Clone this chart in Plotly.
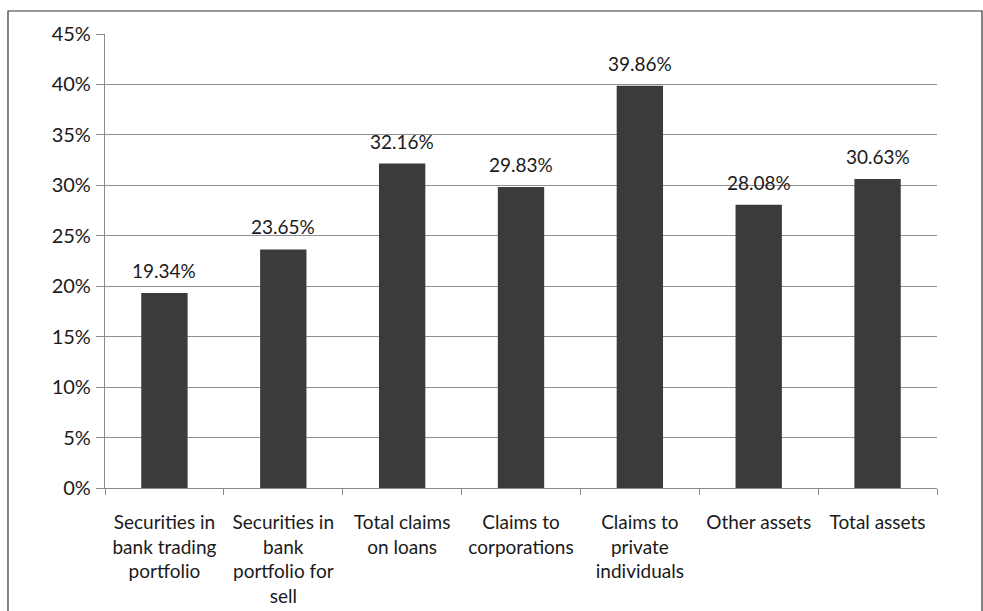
import plotly.graph_objects as go

categories = [
    "Securities in<br>bank trading<br>portfolio",
    "Securities in<br>bank<br>portfolio for<br>sell",
    "Total claims<br>on loans",
    "Claims to<br>corporations",
    "Claims to<br>private<br>individuals",
    "Other assets",
    "Total assets",
]
values = [19.34, 23.65, 32.16, 29.83, 39.86, 28.08, 30.63]
y_ticks = [0, 5, 10, 15, 20, 25, 30, 35, 40, 45]
y_tick_labels = [f"{v}%" for v in y_ticks]

W, H = 983, 611
L, R, T, B = 105, 46, 34, 123
pw, ph = W - L - R, H - T - B

fig = go.Figure()
fig.add_trace(go.Bar(
    x=categories, y=values,
    marker=dict(color="#3b3b3b", line=dict(width=0)),
    width=0.39,
    hoverinfo="skip",
))

for c, v in zip(categories, values):
    fig.add_annotation(
        x=c, y=v, text=f"{v:.2f}%", showarrow=False,
        yanchor="bottom", yshift=9,
        font=dict(family="Lato", size=19, color="#1a1a1a"),
    )

# outer frame
fig.add_shape(
    type="rect", xref="paper", yref="paper",
    x0=(8 - L) / pw, x1=(982 - L) / pw,
    y0=-(H + 20 - T - ph) / ph, y1=1 + (T - 11) / ph,
    line=dict(color="#333333", width=1.2), fillcolor="rgba(0,0,0,0)",
    layer="below",
)

fig.update_layout(
    width=W, height=H,
    margin=dict(l=L, r=R, t=T, b=B, pad=0, autoexpand=False),
    paper_bgcolor="white", plot_bgcolor="white",
    showlegend=False,
    font=dict(family="Lato", size=20, color="#1a1a1a"),
    xaxis=dict(
        type="category", categoryorder="array", categoryarray=categories,
        showgrid=False, showline=True, linecolor="#8a8a8a", linewidth=1.2,
        ticks="outside", tickson="boundaries", ticklen=6, tickcolor="#8a8a8a",
        tickfont=dict(family="Lato", size=19, color="#1a1a1a"),
        tickangle=0, automargin=False,
        ticklabelstandoff=17,
        range=[-0.5, 6.5], fixedrange=True,
    ),
    yaxis=dict(
        range=[0, 45], tickvals=y_ticks, ticktext=y_tick_labels,
        showgrid=True, gridcolor="#909090", gridwidth=1.2,
        showline=True, linecolor="#8a8a8a", linewidth=1.2,
        ticks="outside", ticklen=8, tickcolor="#8a8a8a",
        tickfont=dict(family="Lato", size=20, color="#1a1a1a"),
        ticklabelstandoff=1, zeroline=False, fixedrange=True, automargin=False,
    ),
    bargap=0.61,
)

fig.write_html("out.html")
